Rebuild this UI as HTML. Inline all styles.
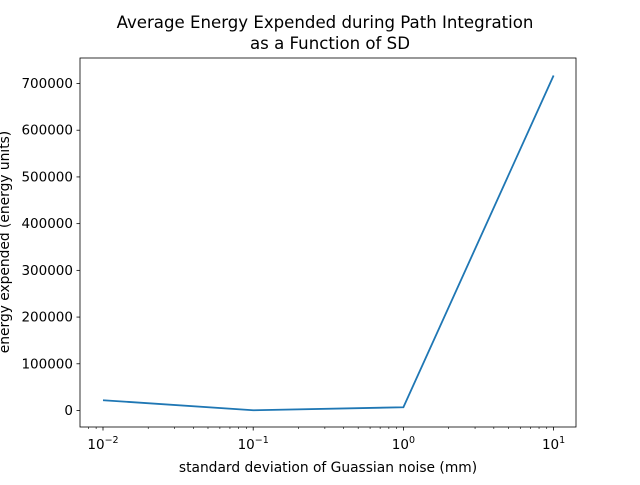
<!DOCTYPE html>
<html><head><meta charset="utf-8"><style>
body{margin:0;background:#fff;}
svg text{font-family:"DejaVu Sans","Liberation Sans",sans-serif;fill:#000;}
</style></head><body>
<svg width="640" height="480">
<rect width="640" height="480" fill="#fff"/>
<text x="325" y="28" font-size="16.6" text-anchor="middle">Average Energy Expended during Path Integration</text>
<text x="330" y="49" font-size="16.6" text-anchor="middle">as a Function of SD</text>
<g id="axes"></g>
<text x="328" y="472" font-size="13.8" text-anchor="middle">standard deviation of Guassian noise (mm)</text>
<text transform="translate(9,242) rotate(-90)" font-size="13.8" text-anchor="middle">energy expended (energy units)</text>
</svg>
<script>
const xValues=[0.01,0.1,1,10];
const yValues=[22000,500,7000,717000];
const yTicks=[0,100000,200000,300000,400000,500000,600000,700000];
const xTickExps=[-2,-1,0,1];
const L=80,R=576,T=58,B=427;
function sx(v){return 103+(Math.log10(v)+2)*150.2;}
function sy(v){return 410.5-v*(327/700000);}
const g=document.getElementById('axes');
const ns='http://www.w3.org/2000/svg';
function mk(t,a){const e=document.createElementNS(ns,t);for(const k in a)e.setAttribute(k,a[k]);g.appendChild(e);return e;}
for(let d=-3;d<=1;d++){for(let m=2;m<=9;m++){const v=m*Math.pow(10,d);const x=sx(v);if(x>L&&x<R){const t=mk('line',{x1:x,x2:x,y1:B,y2:B+2,stroke:'#000','stroke-width':0.6});}}}
xTickExps.forEach(e=>{const x=sx(Math.pow(10,e));
const t=mk('line',{x1:x,x2:x,y1:B,y2:B+3.5,stroke:'#000','stroke-width':0.8});

const tx=mk('text',{x:x,y:B+22,'font-size':13.5,'text-anchor':'middle'});

tx.innerHTML='10<tspan dy="-6" font-size="9.5">'+(e<0?'\u2212'+(-e):e)+'</tspan>';});
yTicks.forEach(v=>{const y=sy(v);
const t=mk('line',{x1:L-3.5,x2:L,y1:y,y2:y,stroke:'#000','stroke-width':0.8});

const tx=mk('text',{x:L-7,y:y+4.5,'font-size':13.5,'text-anchor':'end'});

tx.textContent=v;});
const pts=xValues.map((x,i)=>sx(x)+','+sy(yValues[i])).join(' ');
const line=mk('polyline',{points:pts,fill:'none',stroke:'#1f77b4','stroke-width':1.8});


const fr=mk('rect',{x:L,y:T,width:R-L,height:B-T,fill:'none',stroke:'#000','stroke-width':0.8});


</script>
</body></html>
